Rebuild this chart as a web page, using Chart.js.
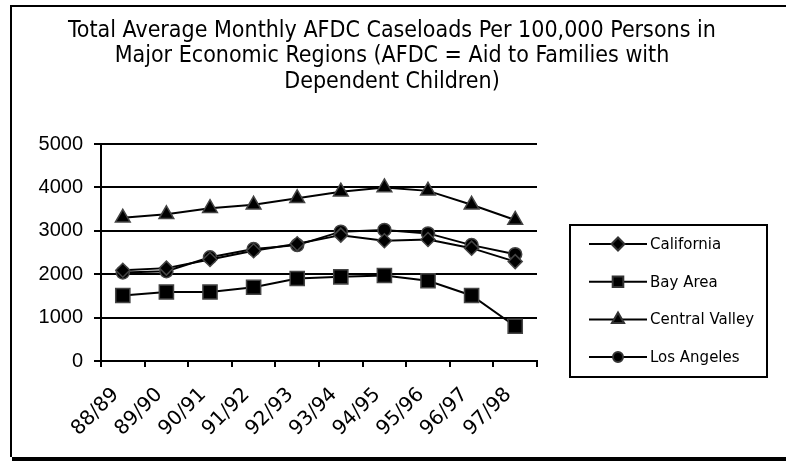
<!DOCTYPE html>
<html>
<head>
<meta charset="utf-8">
<title>AFDC Caseloads</title>
<script src="https://cdn.jsdelivr.net/npm/chart.js@4.4.1/dist/chart.umd.min.js"></script>
<style>
    html, body { margin: 0; padding: 0; background: #fff; }
    #wrap { width: 786px; height: 461px; position: relative; }
</style>
</head>
<body>
<div id="wrap"><canvas id="caseloadChart"></canvas></div>
<script>
// Dados por região (casos por 100.000 pessoas)
const categories = ['88/89', '89/90', '90/91', '91/92', '92/93', '93/94', '94/95', '95/96', '96/97', '97/98'];
const california = [2090, 2140, 2340, 2540, 2700, 2900, 2770, 2800, 2600, 2290];
const bayArea = [1510, 1590, 1590, 1700, 1900, 1940, 1970, 1850, 1510, 800];
const centralValley = [3300, 3380, 3520, 3600, 3750, 3900, 4000, 3920, 3600, 3250];
const losAngeles = [2040, 2070, 2390, 2580, 2670, 2980, 3020, 2940, 2670, 2460];
const yTicks = [0, 1000, 2000, 3000, 4000, 5000];
const titleLines = [
    'Total Average Monthly AFDC Caseloads Per 100,000 Persons in',
    'Major Economic Regions (AFDC = Aid to Families with',
    'Dependent Children)'
];

const axisFont = "'Liberation Sans', Arial, sans-serif";
const xLabelFont = "'DejaVu Sans', Verdana, sans-serif";
const titleFont = "'DejaVu Sans Condensed', 'Liberation Sans Narrow', sans-serif";
const legendFont = "'DejaVu Sans', Verdana, sans-serif";

function series(label, data, style, radius) {
    return {
        label: label,
        data: data,
        borderColor: '#000',
        borderWidth: 2,
        pointStyle: style,
        pointRadius: radius,
        pointHoverRadius: radius,
        pointBackgroundColor: '#000',
        pointBorderColor: '#444',
        pointBorderWidth: 1.5,
        tension: 0,
        clip: false
    };
}

// Moldura, título e legenda desenhados à mão
const decorations = {
    id: 'decorations',
    beforeDraw(chart) {
        const ctx = chart.ctx;
        ctx.save();
        ctx.fillStyle = '#fff';
        ctx.fillRect(0, 0, chart.width, chart.height);
        ctx.restore();
    },
    afterDraw(chart) {
        const ctx = chart.ctx;
        ctx.save();

        // moldura
        ctx.fillStyle = '#000';
        ctx.fillRect(10, 5, 2, 452);
        ctx.fillRect(10, 5, chart.width - 10, 2);
        ctx.fillRect(12, 457, chart.width - 12, 4);

        // título
        ctx.font = '23px ' + titleFont;
        ctx.textAlign = 'center';
        ctx.textBaseline = 'middle';
        titleLines.forEach((line, i) => {
            ctx.fillText(line, 392, 31 + i * 25.5);
        });

        // legenda
        const box = { left: 570, top: 225, right: 767, bottom: 377 };
        ctx.lineWidth = 2;
        ctx.strokeStyle = '#000';
        ctx.strokeRect(box.left, box.top, box.right - box.left, box.bottom - box.top);

        const legendRadius = { rectRot: 6.5, rect: 7.5, triangle: 7, circle: 5 };
        ctx.font = '15px ' + legendFont;
        ctx.textAlign = 'left';
        chart.data.datasets.forEach((ds, i) => {
            const y = box.top + 19 + i * 37.7;
            ctx.beginPath();
            ctx.moveTo(589, y);
            ctx.lineTo(647, y);
            ctx.lineWidth = 2;
            ctx.strokeStyle = '#000';
            ctx.stroke();
            ctx.fillStyle = '#000';
            ctx.strokeStyle = '#333';
            Chart.helpers.drawPoint(ctx, {
                pointStyle: ds.pointStyle,
                radius: legendRadius[ds.pointStyle],
                rotation: 0,
                borderWidth: 1
            }, 618, y);
            ctx.fillStyle = '#000';
            ctx.fillText(ds.label, 650, y + 1);
        });
        ctx.restore();
    }
};

new Chart(document.getElementById('caseloadChart'), {
    type: 'line',
    data: {
        labels: categories,
        datasets: [
            series('California', california, 'rectRot', 7),
            series('Bay Area', bayArea, 'rect', 10),
            series('Central Valley', centralValley, 'triangle', 8.5),
            series('Los Angeles', losAngeles, 'circle', 6.5)
        ]
    },
    options: {
        responsive: true,
        maintainAspectRatio: false,
        animation: false,
        layout: {
            padding: { left: 0, top: 144, right: 249, bottom: 0 }
        },
        plugins: {
            legend: { display: false },
            title: { display: false },
            tooltip: { enabled: false }
        },
        scales: {
            x: {
                offset: true,
                grid: {
                    offset: true,
                    drawOnChartArea: false,
                    color: '#000',
                    lineWidth: 2,
                    tickLength: 6
                },
                border: { color: '#000', width: 2 },
                ticks: {
                    autoSkip: false,
                    minRotation: 45,
                    maxRotation: 45,
                    padding: 16,
                    labelOffset: -7,
                    color: '#000',
                    font: { family: xLabelFont, size: 20 }
                },
                afterFit(scale) {
                    scale.height = 100;
                }
            },
            y: {
                min: 0,
                max: 5000,
                afterBuildTicks(scale) {
                    scale.ticks = yTicks.map(v => ({ value: v }));
                },
                grid: {
                    color: '#000',
                    lineWidth: 2,
                    tickLength: 7
                },
                border: { color: '#000', width: 2 },
                ticks: {
                    padding: 11,
                    color: '#000',
                    font: { family: axisFont, size: 20 },
                    callback: value => String(value)
                },
                afterFit(scale) {
                    scale.width = 101;
                }
            }
        }
    },
    plugins: [decorations]
});
</script>
</body>
</html>
